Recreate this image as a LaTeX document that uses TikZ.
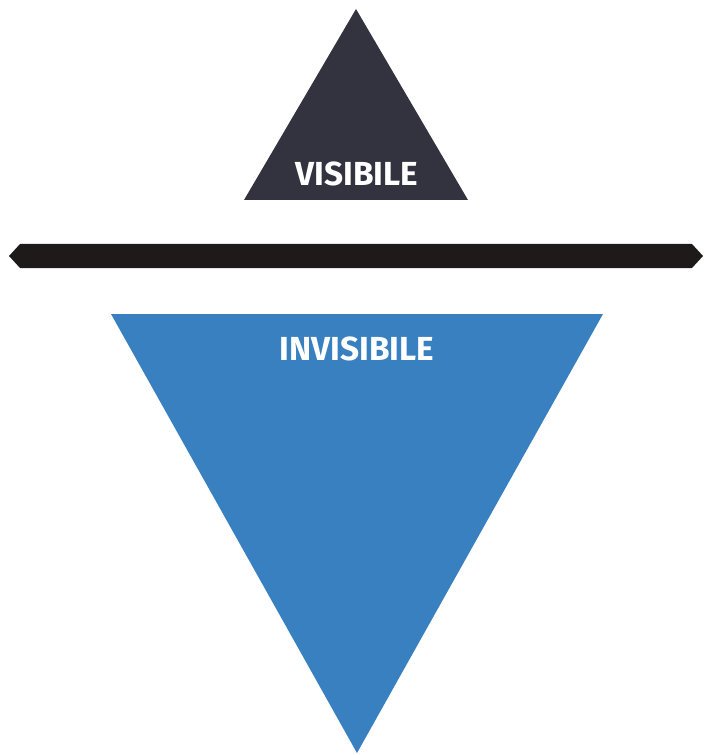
\documentclass[tikz,border=0pt]{standalone}
\usepackage{fontspec}
\setmainfont{Fira Sans}
\usepackage{xcolor}
\usepackage{tikz}
\definecolor{topdark}{HTML}{33323F}
\definecolor{lowblue}{HTML}{3880C0}
\definecolor{barblack}{HTML}{1F1A1A}

\begin{document}
\begin{tikzpicture}[x=0.75pt,y=-0.75pt,
  label/.style={text=white,font=\fontsize{25}{28}\selectfont\bfseries,inner sep=0pt}]
\useasboundingbox (0,0) rectangle (703,755);
\fill[topdark] (356,9) -- (468,200) -- (244,200) -- cycle;
\fill[barblack] (9,256) -- (20,244) -- (692,244) -- (703,256) -- (692,268) -- (20,268) -- cycle;
\fill[lowblue] (111,314) -- (603,314) -- (357,753) -- cycle;
\node[label] (visible) at (357,174) {VISIBILE};
\node[label] (invisible) at (357,349) {INVISIBILE};
\end{tikzpicture}
\end{document}
